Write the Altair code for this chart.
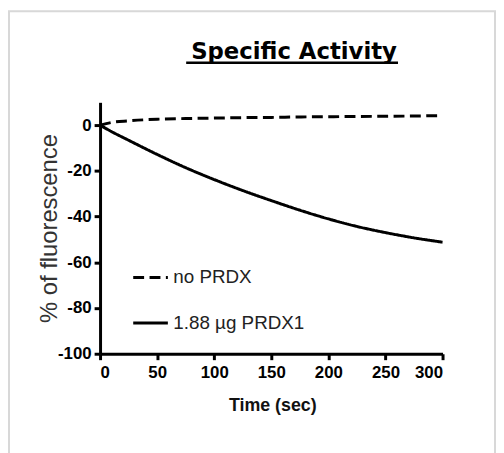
import altair as alt
import pandas as pd

time_sec = [0, 10, 25, 50, 75, 100, 125, 150, 175, 200, 225, 250, 275, 300]
no_prdx = [0, 1.2, 1.9, 2.6, 2.9, 3.1, 3.3, 3.4, 3.6, 3.7, 3.8, 3.9, 4.0, 4.2]
prdx1 = [0, -2.8, -6.6, -12.8, -18.6, -23.8, -28.6, -33, -37.2, -41, -44.3, -47, -49.3, -51.2]
series_names = ["no PRDX", "1.88 \u00b5g PRDX1"]
x_ticks = [0, 50, 100, 150, 200, 250, 300]
y_ticks = [-100, -80, -60, -40, -20, 0]
chart_title = "Specific Activity"

rows = []
for t, v in zip(time_sec, no_prdx):
    rows.append({"time": t, "value": v, "series": series_names[0]})
for t, v in zip(time_sec, prdx1):
    rows.append({"time": t, "value": v, "series": series_names[1]})
df = pd.DataFrame(rows)

lines = alt.Chart(df).mark_line(color="black", strokeWidth=3, interpolate="monotone").encode(
    x=alt.X("time:Q", scale=alt.Scale(domain=[0, 300], nice=False),
            axis=alt.Axis(values=x_ticks, title="Time (sec)", titleX=174, titleY=57,
                          titleBaseline="alphabetic", titleFont="Liberation Sans",
                          titleFontSize=18, titleFontWeight="bold", titleColor="#111",
                          labelExpr="'' + datum.value")),
    y=alt.Y("value:Q", scale=alt.Scale(domain=[-100, 10], nice=False),
            axis=alt.Axis(values=y_ticks, title="% of fluorescence", titleX=-44, titleY=127,
                          titleAngle=-90, titleAlign="center", titleBaseline="alphabetic",
                          titleFont="Liberation Sans", titleFontSize=24,
                          titleFontWeight="normal", titleColor="#333",
                          labelExpr="'' + datum.value")),
    strokeDash=alt.StrokeDash("series:N",
        scale=alt.Scale(domain=series_names, range=[[11, 5.5], [1, 0]]),
        legend=alt.Legend(title=None, orient="none", legendX=32, legendY=158,
                          symbolType="stroke", symbolSize=1225, symbolStrokeWidth=3,
                          symbolStrokeColor="black", labelFont="Liberation Sans",
                          labelFontSize=19, labelColor="#222", labelOffset=4,
                          rowPadding=17, padding=0)),
    order=alt.Order("time:Q"),
)

title_text = alt.Chart(alt.Data(values=[{}])).mark_text(
    font="DejaVu Sans", fontSize=23, fontWeight="bold", color="black",
    align="center", baseline="alphabetic"
).encode(x=alt.value(196), y=alt.value(-44), text=alt.value(chart_title))

underline = alt.Chart(alt.Data(values=[{}])).mark_rule(color="black", strokeWidth=2.5).encode(
    x=alt.value(87), x2=alt.value(301), y=alt.value(-40)
)

frame = alt.Chart(alt.Data(values=[{}])).mark_rect(
    fill="transparent", stroke="#d8d8d8", strokeWidth=2
).encode(
    x=alt.value(-92), x2=alt.value(399), y=alt.value(-92), y2=alt.value(360)
)

chart = alt.layer(frame, lines, title_text, underline).properties(
    width=346, height=254,
    autosize=alt.AutoSizeParams(type="none"),
    padding={"left": 93, "top": 93, "right": 54, "bottom": 98},
).configure_view(stroke=None).configure_axis(
    domainColor="black", domainWidth=3, tickColor="black", tickWidth=3, tickSize=6,
    labelFont="Liberation Sans", labelFontSize=17, labelFontWeight="bold",
    labelColor="black", grid=False
).configure_axisX(labelPadding=5).configure_axisY(labelPadding=3)

chart.save("out.html", embed_options={"renderer": "svg", "actions": False})
